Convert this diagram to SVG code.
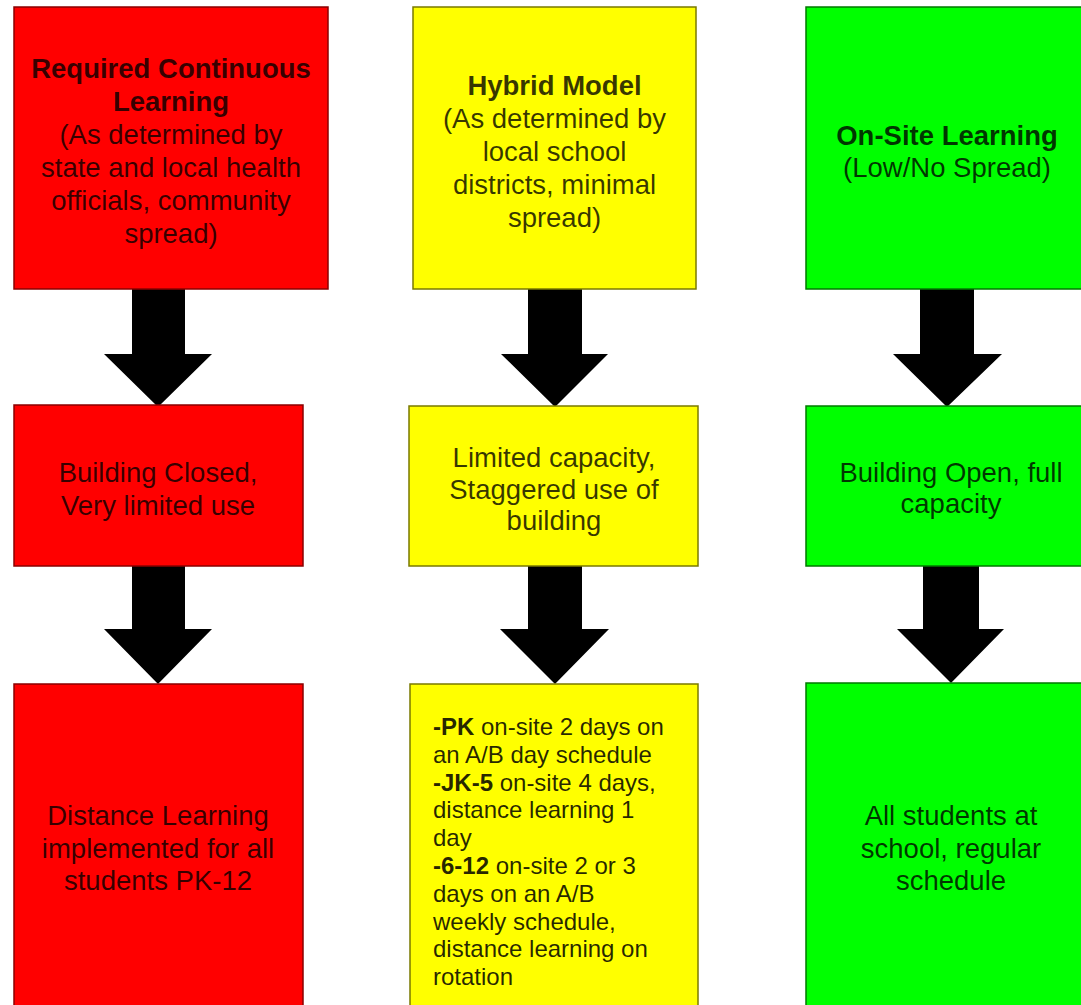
<svg xmlns="http://www.w3.org/2000/svg" width="1081" height="1005" viewBox="0 0 1081 1005">
<style>
.red{fill:#ff0000;stroke:#8a0000;stroke-width:1.5}
.yel{fill:#ffff00;stroke:#7a7a00;stroke-width:1.5}
.grn{fill:#00ff00;stroke:#007a00;stroke-width:1.5}
.t{font-family:"Liberation Sans",Arial,sans-serif;font-size:27.5px;fill:#000;fill-opacity:0.78;text-anchor:middle}
.b{font-weight:bold}
.s{font-family:"Liberation Sans",Arial,sans-serif;font-size:24px;fill:#000;fill-opacity:0.85}
.arrow{fill:#000}
</style>
<rect width="1081" height="1005" fill="#fff"/>
<g id="connectors">
<polygon class="arrow" points="132,289 185,289 185,354 212,354 158,407 104,354 132,354"/>
<polygon class="arrow" points="132,566 185,566 185,629 212,629 158,684 104,629 132,629"/>
<polygon class="arrow" points="528,289 582,289 582,354 608,354 555,407 501,354 528,354"/>
<polygon class="arrow" points="528,566 582,566 582,629 609,629 555,684 500,629 528,629"/>
<polygon class="arrow" points="920,289 974,289 974,354 1002,354 947,407 893,354 920,354"/>
<polygon class="arrow" points="923,566 979,566 979,629 1004,629 951,683 897,629 923,629"/>
</g>
<g id="required">
<rect class="red" x="14" y="7" width="314" height="282"/>
<text class="t" x="171" y="78"><tspan class="b">Required Continuous</tspan><tspan class="b" x="171" dy="33">Learning</tspan><tspan x="171" dy="33">(As determined by</tspan><tspan x="171" dy="33">state and local health</tspan><tspan x="171" dy="33">officials, community</tspan><tspan x="171" dy="33">spread)</tspan></text>
</g>
<g id="building-closed">
<rect class="red" x="14" y="405" width="289" height="161"/>
<text class="t" x="158" y="482">Building Closed,<tspan x="158" dy="33">Very limited use</tspan></text>
</g>
<g id="distance">
<rect class="red" x="14" y="684" width="289" height="330"/>
<text class="t" x="158" y="825">Distance Learning<tspan x="158" dy="32.5">implemented for all</tspan><tspan x="158" dy="32.5">students PK-12</tspan></text>
</g>
<g id="hybrid">
<rect class="yel" x="413" y="7" width="283" height="282"/>
<text class="t" x="554.5" y="95"><tspan class="b">Hybrid Model</tspan><tspan x="554.5" dy="33">(As determined by</tspan><tspan x="554.5" dy="33">local school</tspan><tspan x="554.5" dy="33">districts, minimal</tspan><tspan x="554.5" dy="33">spread)</tspan></text>
</g>
<g id="limited">
<rect class="yel" x="409" y="406" width="289" height="160"/>
<text class="t" x="554" y="467">Limited capacity,<tspan x="554" dy="31.5">Staggered use of</tspan><tspan x="554" dy="31.5">building</tspan></text>
</g>
<g id="hybrid-schedule">
<rect class="yel" x="410" y="684" width="288" height="330"/>
<text class="s" x="433" y="735"><tspan class="b">-PK</tspan> on-site 2 days on<tspan x="433" dy="27.8">an A/B day schedule</tspan><tspan x="433" dy="27.8" class="b">-JK-5</tspan> on-site 4 days,<tspan x="433" dy="27.8">distance learning 1</tspan><tspan x="433" dy="27.8">day</tspan><tspan x="433" dy="27.8" class="b">-6-12</tspan> on-site 2 or 3<tspan x="433" dy="27.8">days on an A/B</tspan><tspan x="433" dy="27.8">weekly schedule,</tspan><tspan x="433" dy="27.8">distance learning on</tspan><tspan x="433" dy="27.8">rotation</tspan></text>
</g>
<g id="onsite">
<rect class="grn" x="806" y="7" width="290" height="282"/>
<text class="t" x="947" y="145"><tspan class="b">On-Site Learning</tspan><tspan x="947" dy="32">(Low/No Spread)</tspan></text>
</g>
<g id="building-open">
<rect class="grn" x="806" y="406" width="290" height="160"/>
<text class="t" x="951" y="482">Building Open, full<tspan x="951" dy="31">capacity</tspan></text>
</g>
<g id="all-students">
<rect class="grn" x="806" y="683" width="290" height="330"/>
<text class="t" x="951" y="825">All students at<tspan x="951" dy="32.5">school, regular</tspan><tspan x="951" dy="32.5">schedule</tspan></text>
</g>
</svg>
